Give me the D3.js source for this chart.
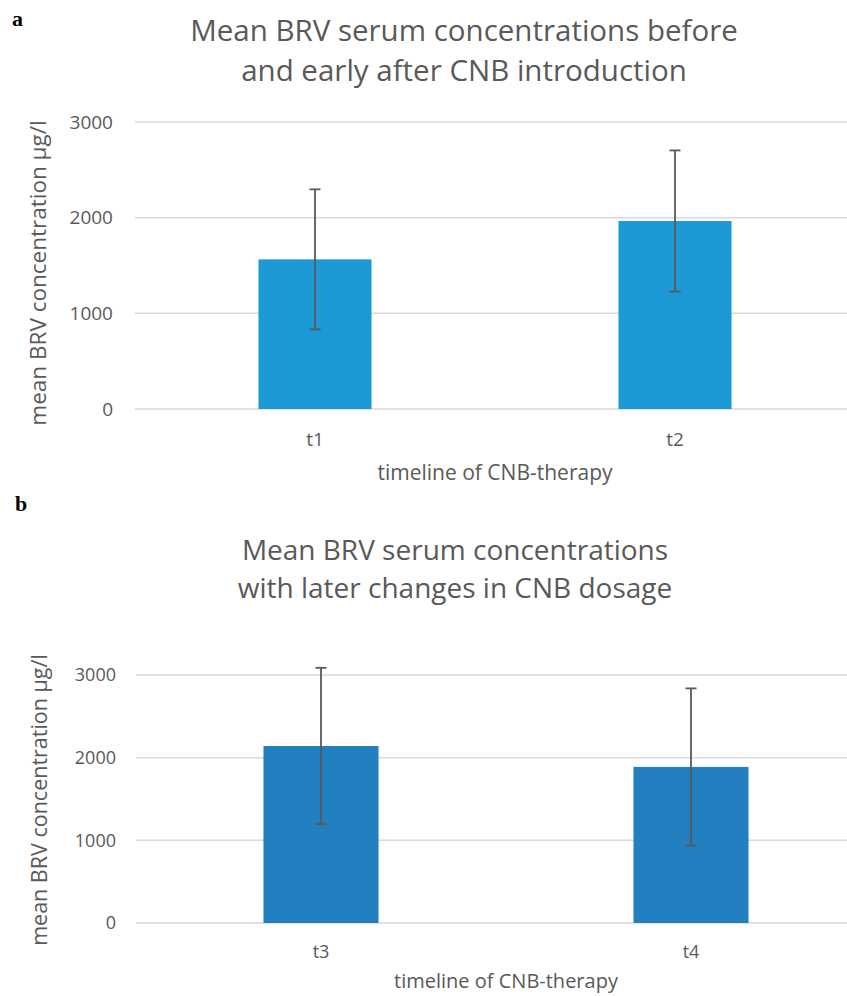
<!DOCTYPE html>
<html>
<head>
<meta charset="utf-8">
<script src="https://cdn.jsdelivr.net/npm/d3@7"></script>
<style>
  html, body { margin: 0; padding: 0; background: #fff; }
  svg { display: block; }
  text { font-family: "Open Sans", "Noto Sans", sans-serif; fill: #595959; }
</style>
</head>
<body>
<svg id="chart" width="847" height="996"></svg>
<script>
// ---- data ----
const categoriesA = ["t1", "t2"];
const meansA = [1564, 1965];
const sdA = [732, 738];

const categoriesB = ["t3", "t4"];
const meansB = [2141, 1888];
const sdB = [946, 950];

const yTicks = [0, 1000, 2000, 3000];
const titleA = ["Mean BRV serum concentrations before", "and early after CNB introduction"];
const titleB = ["Mean BRV serum concentrations", "with later changes in CNB dosage"];
const yLabel = "mean BRV concentration µg/l";
const xLabel = "timeline of CNB-therapy";

const svg = d3.select("#chart");

function panel(cfg) {
  const g = svg.append("g");
  const x = d3.scaleBand().domain(cfg.cats).range([cfg.x0, cfg.x1]).paddingInner(cfg.pad).paddingOuter(cfg.pad / 2);
  const y = d3.scaleLinear().domain([0, 3000]).range([cfg.y0, cfg.y1]);

  // gridlines
  g.selectAll("line.grid").data(yTicks).join("line")
    .attr("x1", cfg.x0).attr("x2", cfg.x1)
    .attr("y1", d => y(d)).attr("y2", d => y(d))
    .attr("stroke", "#d9d9d9").attr("stroke-width", 1.5);

  // y tick labels
  g.selectAll("text.yt").data(yTicks).join("text")
    .attr("x", cfg.tickX).attr("y", d => y(d))
    .attr("dy", "0.35em").attr("text-anchor", "end")
    .style("font-size", cfg.tickSize + "px")
    .text(d => d);

  // bars
  const data = cfg.cats.map((c, i) => ({ c, m: cfg.means[i], s: cfg.sd[i] }));
  g.selectAll("rect.bar").data(data).join("rect")
    .attr("x", d => x(d.c)).attr("width", x.bandwidth())
    .attr("y", d => y(d.m)).attr("height", d => y(0) - y(d.m))
    .attr("fill", cfg.color);

  // error bars
  const cx = d => x(d.c) + x.bandwidth() / 2;
  const eb = g.selectAll("g.eb").data(data).join("g")
    .attr("stroke", "#595959").attr("stroke-width", 1.8);
  eb.append("line").attr("x1", cx).attr("x2", cx)
    .attr("y1", d => y(d.m + d.s)).attr("y2", d => y(d.m - d.s));
  eb.append("line").attr("x1", d => cx(d) - 5.5).attr("x2", d => cx(d) + 5.5)
    .attr("y1", d => y(d.m + d.s)).attr("y2", d => y(d.m + d.s));
  eb.append("line").attr("x1", d => cx(d) - 5.5).attr("x2", d => cx(d) + 5.5)
    .attr("y1", d => y(d.m - d.s)).attr("y2", d => y(d.m - d.s));

  // x tick labels
  g.selectAll("text.xt").data(cfg.cats).join("text")
    .attr("x", d => x(d) + x.bandwidth() / 2).attr("y", cfg.xTickY)
    .attr("text-anchor", "middle")
    .style("font-size", cfg.tickSize + "px")
    .text(d => d);

  // x axis title
  g.append("text").attr("x", (cfg.x0 + cfg.x1) / 2).attr("y", cfg.xTitleY)
    .attr("text-anchor", "middle").style("font-size", cfg.axisSize + "px")
    .text(xLabel);

  // y axis title
  g.append("text")
    .attr("transform", `translate(${cfg.yTitleX},${cfg.yTitleY}) rotate(-90)`)
    .attr("text-anchor", "middle").style("font-size", cfg.yAxisSize + "px")
    .text(yLabel);

  // chart title
  g.selectAll("text.title").data(cfg.title).join("text")
    .attr("x", cfg.titleX).attr("y", (d, i) => cfg.titleY + i * cfg.titleLH)
    .attr("text-anchor", "middle").style("font-size", cfg.titleSize + "px")
    .text(d => d);

  // panel letter
  g.append("text").attr("x", cfg.letterX).attr("y", cfg.letterY)
    .style("font-family", "'Liberation Serif', 'DejaVu Serif', serif")
    .style("font-weight", "bold").style("font-size", "22px").style("fill", "#000")
    .text(cfg.letter);
}

panel({
  cats: categoriesA, means: meansA, sd: sdA, color: "#1b9ad6",
  x0: 135, x1: 855, y0: 409, y1: 122, pad: 0.686,
  tickX: 113, tickSize: 19, xTickY: 446, xTitleY: 480, axisSize: 21, yAxisSize: 22.5,
  yTitleX: 46, yTitleY: 273, title: titleA, titleX: 464, titleY: 41, titleLH: 40, titleSize: 29.5,
  letter: "a", letterX: 12, letterY: 26
});

panel({
  cats: categoriesB, means: meansB, sd: sdB, color: "#2280c0",
  x0: 136, x1: 876, y0: 923, y1: 675, pad: 0.689,
  tickX: 116, tickSize: 18, xTickY: 958, xTitleY: 988, axisSize: 20, yAxisSize: 21.5,
  yTitleX: 47, yTitleY: 800, title: titleB, titleX: 455, titleY: 560, titleLH: 38, titleSize: 28,
  letter: "b", letterX: 15, letterY: 511
});
</script>
</body>
</html>
